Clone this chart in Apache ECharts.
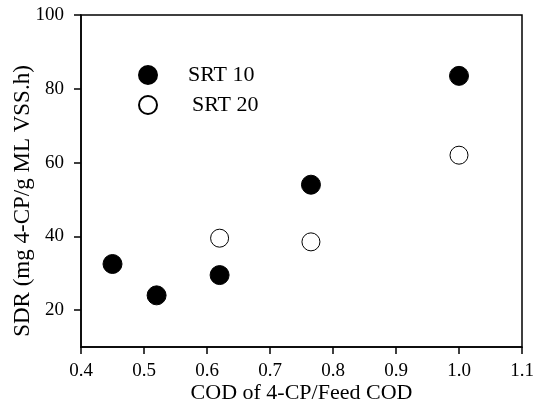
<!DOCTYPE html>
<html>
<head>
<meta charset="utf-8">
<script src="https://cdn.jsdelivr.net/npm/echarts@6/dist/echarts.min.js"></script>
<style>
html,body{margin:0;padding:0;background:#fff;}
#chart{width:542px;height:414px;}
</style>
</head>
<body>
<div id="chart"></div>
<script>
var srt10 = [[0.45, 32.5], [0.52, 24], [0.62, 29.5], [0.765, 54], [1.0, 83.5]];
var srt20 = [[0.62, 39.5], [0.765, 38.5], [1.0, 62]];
var yTicks = [20, 40, 60, 80, 100];

var font = 'Liberation Serif';
var myChart = echarts.init(document.getElementById('chart'));
var option = {
	animation: false,
	textStyle: { fontFamily: font },
	grid: {
		left: 81, right: 20, top: 15, bottom: 67,
		containLabel: false, outerBoundsMode: 'none',
		show: true, borderColor: '#000', borderWidth: 1.5
	},
	legend: {
		orient: 'vertical',
		left: 138, top: 64, padding: 0,
		itemWidth: 18, itemHeight: 18, itemGap: 8,
		textStyle: { fontFamily: font, fontSize: 22, color: '#000', padding: [0, 0, 0, 26] },
		data: [
			{ name: 'SRT 10', icon: 'circle' },
			{ name: 'SRT 20', icon: 'circle', textStyle: { padding: [0, 0, 0, 30] } }
		]
	},
	xAxis: {
		type: 'value', min: 0.4, max: 1.1, interval: 0.1,
		name: 'COD of 4-CP/Feed COD', nameLocation: 'middle', nameGap: 35,
		nameMoveOverlap: false,
		nameTextStyle: { fontFamily: font, fontSize: 22, color: '#000' },
		axisLine: { show: true, lineStyle: { color: '#000', width: 1.5 } },
		axisTick: { show: true, length: 7, lineStyle: { color: '#000', width: 1.5 } },
		axisLabel: { fontFamily: font, fontSize: 19, color: '#000', margin: 15,
			formatter: function (v) { return v.toFixed(1); } },
		splitLine: { show: false }
	},
	yAxis: {
		type: 'value', min: 10, max: 100, interval: 10,
		name: 'SDR (mg 4-CP/g ML VSS.h)', nameLocation: 'middle', nameGap: 47,
		nameMoveOverlap: false,
		nameTextStyle: { fontFamily: font, fontSize: 23, color: '#000', padding: [0, 40, 0, 0] },
		axisLine: { show: true, lineStyle: { color: '#000', width: 1.5 } },
		axisTick: { show: true, length: 7, customValues: yTicks, lineStyle: { color: '#000', width: 1.5 } },
		axisLabel: { fontFamily: font, fontSize: 19, color: '#000', margin: 17, customValues: yTicks },
		splitLine: { show: false }
	},
	series: [
		{
			name: 'SRT 10', type: 'scatter', symbol: 'circle', symbolSize: 19,
			itemStyle: { color: '#000', borderColor: '#000', borderWidth: 1, opacity: 1 },
			data: srt10
		},
		{
			name: 'SRT 20', type: 'scatter', symbol: 'circle', symbolSize: 18,
			itemStyle: { color: '#fff', borderColor: '#000', borderWidth: 1, opacity: 1 },
			data: srt20
		}
	]
};
myChart.setOption(option);
</script>
</body>
</html>
